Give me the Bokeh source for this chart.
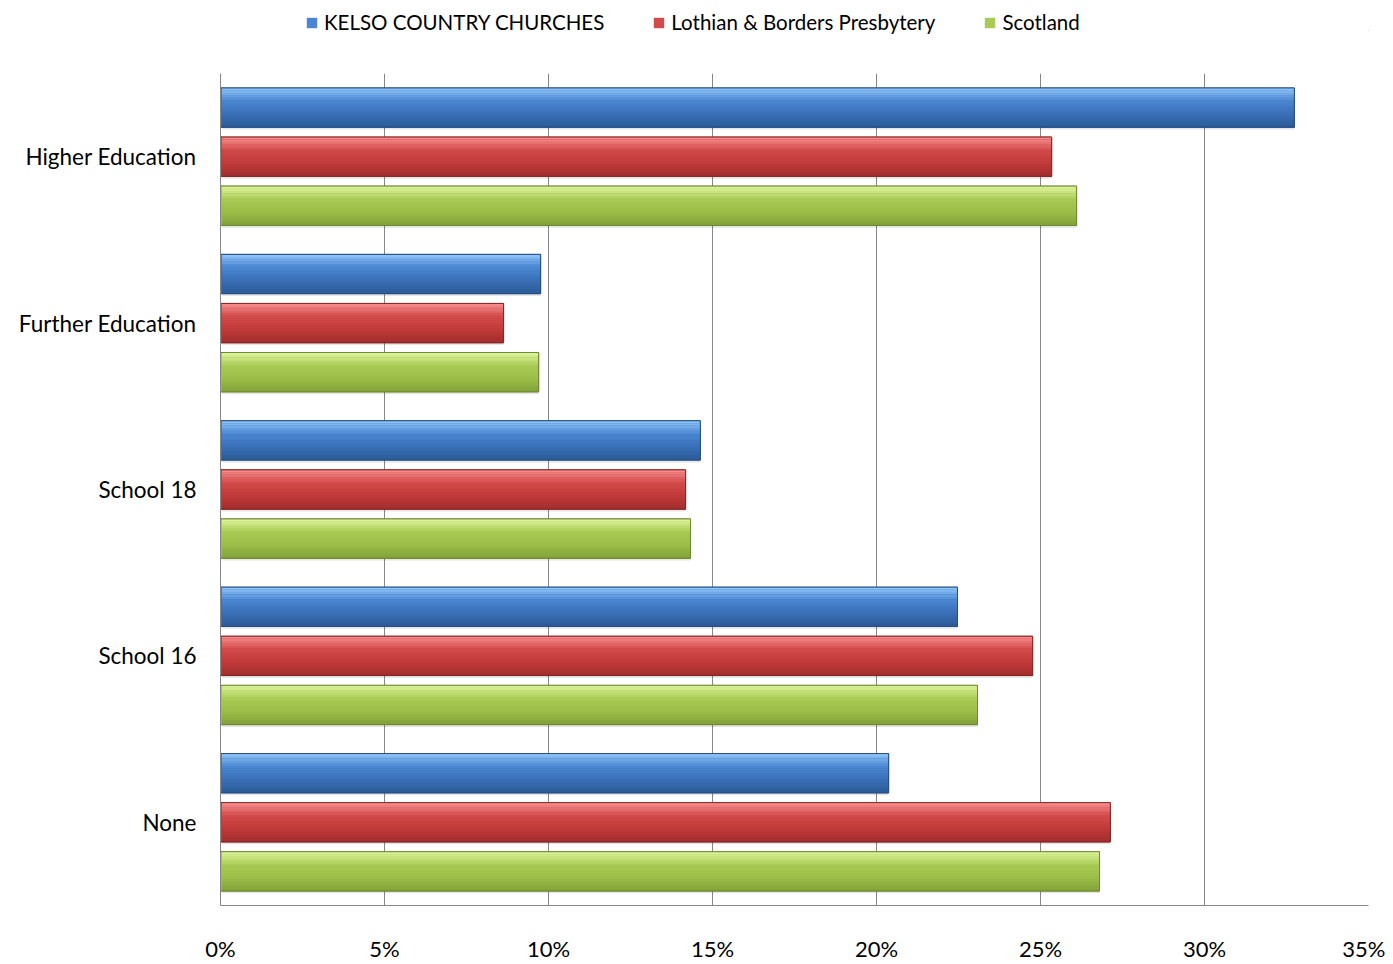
from bokeh.plotting import figure
from bokeh.layouts import column
from bokeh.models import (FactorRange, Range1d, FixedTicker, NumeralTickFormatter,
                          Legend, LegendItem, ColumnDataSource)
from bokeh.transform import dodge
from bokeh.embed import file_html
from bokeh.resources import INLINE

# ---- data ----
categories = ["None", "School 16", "School 18", "Further Education", "Higher Education"]
series_names = ["KELSO COUNTRY CHURCHES", "Lothian & Borders Presbytery", "Scotland"]
kelso = [0.2037, 0.2247, 0.1463, 0.0976, 0.3274]
lothian = [0.2713, 0.2476, 0.1418, 0.0863, 0.2534]
scotland = [0.2680, 0.2308, 0.1433, 0.0970, 0.2610]
tick_values = [0, 0.05, 0.10, 0.15, 0.20, 0.25, 0.30, 0.35]

FONT = "Lato"
W = 1385
LH = 60            # legend strip height
MT, FRAME_H, MB = 13, 848, 43
MH = MT + FRAME_H + MB

p = figure(width=W, height=MH, output_backend="svg", toolbar_location=None,
           y_range=FactorRange(*categories, range_padding=0),
           x_range=Range1d(0, 0.35),
           min_border_left=220, min_border_right=17, min_border_top=MT, min_border_bottom=MB)

styles = [
    ["#8CC2F6", "#4A86D2", "#3A70B8", "#2C5C98", "#264F86"],
    ["#F58A8A", "#D24A4A", "#C23B3B", "#A32E2E", "#8A2626"],
    ["#DDF39A", "#A9CB55", "#9CBE48", "#83A33A", "#6E8A30"],
]
offsets = [0.295, 0.0, -0.295]
bar_h = 0.236
series = [kelso, lothian, scotland]


def lerp(c1, c2, t):
    a = [int(c1[i:i + 2], 16) for i in (1, 3, 5)]
    b = [int(c2[i:i + 2], 16) for i in (1, 3, 5)]
    return "#%02x%02x%02x" % tuple(int(round(a[k] + (b[k] - a[k]) * t)) for k in range(3))


def grad(stops, t):
    n = len(stops) - 1
    pos = min(t * n, n - 1e-9)
    i = int(pos)
    return lerp(stops[i], stops[i + 1], pos - i)


# legend strip figure
lg = figure(width=W, height=LH, output_backend="svg", toolbar_location=None,
            x_range=Range1d(0, 1), y_range=Range1d(0, 1),
            min_border_left=0, min_border_right=0, min_border_top=0, min_border_bottom=0)
lg.axis.visible = False
lg.grid.visible = False
lg.outline_line_color = None

legend_items = []
for s, vals, off, st in zip(series_names, series, offsets, styles):
    src = ColumnDataSource(dict(cat=categories, val=vals))
    p.hbar(y=dodge("cat", off - 0.014, range=p.y_range), left=0.0005, right="val",
           height=bar_h, source=src, fill_color="#000000", fill_alpha=0.10, line_color=None)
    p.hbar(y=dodge("cat", off, range=p.y_range), left=0, right="val", height=bar_h,
           source=src, fill_color=st[2], line_color=st[4], line_width=1)
    n = 16
    sh = bar_h / n
    for k in range(n):
        t = k / (n - 1)
        yc = off + bar_h / 2 - sh * (k + 0.5)
        col = grad(st[:4], t)
        p.hbar(y=dodge("cat", yc, range=p.y_range), left=0.0004, right="val", height=sh * 1.05,
               source=src, fill_color=col, line_color=None)
    p.hbar(y=dodge("cat", off, range=p.y_range), left=0, right="val", height=bar_h,
           source=src, fill_color=None, line_color=st[4], line_width=1)
    # legend proxy: lies outside the strip's visible range, only its style is shown
    proxy = lg.hbar(y=[0.5], left=[100], right=[101], height=0.01,
                    fill_color=st[1], line_color=None)
    legend_items.append(LegendItem(label=s, renderers=[proxy]))

legend = Legend(items=legend_items, orientation="horizontal", location=(85, 26),
                label_text_font=FONT, label_text_font_size="20.5px", label_text_color="#000000",
                glyph_width=13, glyph_height=13, label_standoff=6, spacing=48,
                border_line_color=None, background_fill_alpha=0, padding=0, margin=0)
lg.add_layout(legend, "center")

p.outline_line_color = None
p.xgrid.grid_line_color = "#868686"
p.xgrid.grid_line_width = 1
p.ygrid.grid_line_color = None
p.xaxis.ticker = FixedTicker(ticks=tick_values)
p.xaxis.formatter = NumeralTickFormatter(format="0%")
p.xaxis.axis_line_color = "#868686"
p.xaxis.major_tick_line_color = None
p.xaxis.minor_tick_line_color = None
p.xaxis.major_label_text_font = FONT
p.xaxis.major_label_text_font_size = "22px"
p.xaxis.major_label_text_color = "#000000"
p.xaxis.major_label_standoff = 23

p.yaxis.axis_line_color = "#868686"
p.yaxis.major_tick_line_color = None
p.yaxis.minor_tick_line_color = None
p.yaxis.major_label_text_font = FONT
p.yaxis.major_label_text_font_size = "22.5px"
p.yaxis.major_label_text_color = "#000000"
p.yaxis.major_label_standoff = 18

layout = column(lg, p, spacing=0)
open("out.html", "w").write(file_html(layout, INLINE))
